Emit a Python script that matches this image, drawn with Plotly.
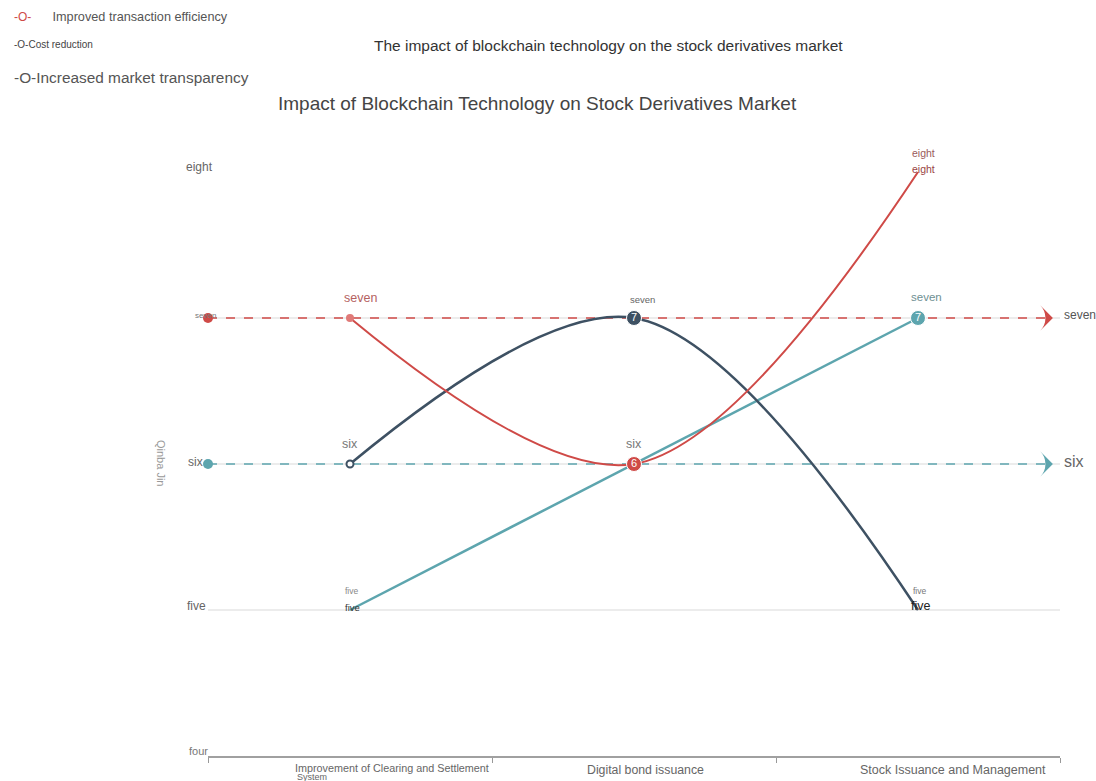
import plotly.graph_objects as go

# ---- data -------------------------------------------------------------
categories = [
    "Improvement of Clearing and Settlement System",
    "Digital bond issuance",
    "Stock Issuance and Management",
]
efficiency = [7, 6, 8]       # Improved transaction efficiency
cost = [6, 7, 5]             # Cost reduction
transparency = [5, 6, 7]     # Increased market transparency
y_levels = [4, 5, 6, 7, 8]
level_words = {4: "four", 5: "five", 6: "six", 7: "seven", 8: "eight"}

RED = "#cf4a47"
SLATE = "#3e5163"
TEAL = "#5da5ae"
FONT = "Liberation Sans, Arial, sans-serif"

# page / plot-area geometry
W, H = 1096, 781
ML, MR, MT, MB = 208, 36, 172, 25
PW, PH = W - ML - MR, H - MT - MB


def px(x, y):
    """Page pixel position -> paper coordinates of the plot area."""
    return (x - ML) / PW, (H - MB - y) / PH


xs = list(range(len(categories)))
fig = go.Figure()


def avg(v):
    return sum(v) / len(v)


# average reference lines (dashed, ending with an arrow)
for series, color, lab_size, lab_color in [
    (efficiency, RED, 12, "#555555"),
    (transparency, TEAL, 16, "#666666"),
]:
    m = avg(series)
    fig.add_trace(go.Scatter(
        x=[-0.5, 2.46], y=[m, m], mode="lines",
        line=dict(color=color, width=1.3, dash="dash"),
        hoverinfo="skip", showlegend=False))
    fig.add_trace(go.Scatter(
        x=[-0.5], y=[m], mode="markers",
        marker=dict(color=color, size=10), showlegend=False, cliponaxis=False))
    fig.add_trace(go.Scatter(
        x=[2.475], y=[m], mode="markers",
        marker=dict(symbol="arrow-wide", angle=90, color=color, size=18),
        showlegend=False, cliponaxis=False))
    fig.add_annotation(x=2.5, y=m, xref="x", yref="y", text=level_words[round(m)],
                       showarrow=False, xanchor="left", xshift=2, yshift=3,
                       font=dict(family=FONT, size=lab_size, color=lab_color))

# series lines
fig.add_trace(go.Scatter(
    x=xs, y=transparency, mode="lines", name="Increased market transparency",
    line=dict(color=TEAL, width=2.5), cliponaxis=False))
fig.add_trace(go.Scatter(
    x=xs, y=cost, mode="lines", name="Cost reduction",
    line=dict(color=SLATE, width=2.5, shape="spline", smoothing=1.0), cliponaxis=False))
fig.add_trace(go.Scatter(
    x=xs, y=efficiency, mode="lines", name="Improved transaction efficiency",
    line=dict(color=RED, width=2, shape="spline", smoothing=1.0), cliponaxis=False))

# small start markers
fig.add_trace(go.Scatter(
    x=[xs[0]], y=[cost[0]], mode="markers",
    marker=dict(color="white", size=7, line=dict(color=SLATE, width=2)),
    showlegend=False))
fig.add_trace(go.Scatter(
    x=[xs[0]], y=[efficiency[0]], mode="markers",
    marker=dict(color="#e07a78", size=8), showlegend=False))

# numbered badges
for series, idx, color in [(efficiency, 1, RED), (cost, 1, SLATE), (transparency, 2, TEAL)]:
    fig.add_trace(go.Scatter(
        x=[xs[idx]], y=[series[idx]], mode="markers+text",
        marker=dict(color=color, size=15, line=dict(color="white", width=1)),
        text=[str(series[idx])], textposition="middle center",
        textfont=dict(family=FONT, size=11, color="white"),
        showlegend=False, cliponaxis=False))

# value labels above points: (series, index, size, color, yshift, xshift)
point_labels = [
    (efficiency, 0, 12.5, "#b5625f", 20, 10),
    (efficiency, 1, 12.5, "#777777", 20, 0),
    (efficiency, 2, 10.5, "#9a5a5a", 19, 5),
    (efficiency, 2, 10.5, "#9a4444", 3, 5),
    (cost, 0, 12.5, "#777777", 20, 0),
    (cost, 1, 9.5, "#666666", 19, 8),
    (cost, 2, 8.5, "#777777", 19, 2),
    (cost, 2, 12.5, "#222222", 4, 3),
    (transparency, 0, 8.5, "#888888", 19, 2),
    (transparency, 0, 9.5, "#333333", 3, 2),
    (transparency, 2, 11.5, "#6e8f92", 21, 8),
]
for series, idx, size, color, ys, xsft in point_labels:
    fig.add_annotation(x=xs[idx], y=series[idx], xref="x", yref="y",
                       text=level_words[series[idx]], showarrow=False,
                       yshift=ys, xshift=xsft,
                       font=dict(family=FONT, size=size, color=color))

# y tick labels
ytick_style = {4: (11, "#777777"), 5: (12, "#666666"), 6: (12, "#666666"),
               7: (8, "#777777"), 8: (12, "#666666")}
ytick_shift = {4: 5, 5: 4, 6: 2, 7: 3, 8: 5}
ytick_x = {4: 2, 5: 0, 6: -3, 7: 10, 8: 7}
for lv in y_levels:
    size, color = ytick_style[lv]
    fig.add_annotation(x=0, y=lv, xref="paper", yref="y", text=level_words[lv],
                       showarrow=False, xanchor="right", yshift=ytick_shift[lv],
                       xshift=ytick_x[lv],
                       font=dict(family=FONT, size=size, color=color))

# category labels under the axis: (index, text, size, xshift, yshift)
cat_labels = [
    (0, "Improvement of Clearing and Settlement", 10.8, 42, -12),
    (0, "System", 9, -38, -21),
    (1, categories[1], 12.3, 11, -14),
    (2, categories[2], 12.5, 35, -14),
]
for idx, text, size, xsft, ys in cat_labels:
    fig.add_annotation(x=xs[idx], y=4, xref="x", yref="y", text=text,
                       showarrow=False, xshift=xsft, yshift=ys,
                       font=dict(family=FONT, size=size, color="#666666"))

# y axis title
ax, ay = px(161, 463)
fig.add_annotation(x=ax, y=ay, xref="paper", yref="paper", text="Qinba Jin",
                   showarrow=False, textangle=90, xanchor="center", yanchor="middle",
                   font=dict(family=FONT, size=11, color="#999999"))

# titles
for text, cx, cy, size, color in [
    ("The impact of blockchain technology on the stock derivatives market", 608, 46, 15.5, "#333333"),
    ("Impact of Blockchain Technology on Stock Derivatives Market", 537, 103, 19, "#444444"),
]:
    tx, ty = px(cx, cy)
    fig.add_annotation(x=tx, y=ty, xref="paper", yref="paper", text=text,
                       showarrow=False, xanchor="center", yanchor="middle",
                       font=dict(family=FONT, size=size, color=color))

# hand-drawn style legend: (symbol, symbol colour, symbol size, label, label colour, label size, x, y)
legend_rows = [
    ("-O-", RED, 12, "Improved transaction efficiency", "#555555", 12.7, 12, 17),
    ("-O-", "#444444", 10, "Cost reduction", "#444444", 10, 12, 45),
    ("-O-", "#555555", 15.4, "Increased market transparency", "#555555", 15.4, 12, 78),
]
for i, (sym, scol, ssize, label, lcol, lsize, lx, ly) in enumerate(legend_rows):
    sx, sy = px(lx, ly)
    gap = "&nbsp;" * 6 if i == 0 else ""
    fig.add_annotation(
        x=sx, y=sy, xref="paper", yref="paper", xanchor="left", yanchor="middle",
        showarrow=False,
        text=f"<span style='color:{scol};font-size:{ssize}px'>{sym}</span>{gap}"
             f"<span style='color:{lcol};font-size:{lsize}px'>{label}</span>",
        font=dict(family=FONT, size=lsize, color=lcol))

fig.update_layout(
    width=W, height=H, margin=dict(l=ML, r=MR, t=MT, b=MB),
    paper_bgcolor="white", plot_bgcolor="white", showlegend=False,
    font=dict(family=FONT, color="#666666"),
    xaxis=dict(range=[-0.5, 2.5], tickvals=xs, showticklabels=False,
               ticks="", showgrid=False, zeroline=False, showline=True,
               linecolor="#a0a0a0", linewidth=1.5,
               minor=dict(tickmode="array", tickvals=[-0.5, 0.5, 1.5, 2.5],
                          ticks="outside", ticklen=5, tickcolor="#999999", showgrid=False),
               automargin=False),
    yaxis=dict(range=[4, 8], tickvals=[5, 6, 7, 8], showticklabels=False,
               showgrid=True, gridcolor="#ececec", gridwidth=1.5,
               zeroline=False, showline=False, automargin=False),
)

fig.write_html("out.html")
